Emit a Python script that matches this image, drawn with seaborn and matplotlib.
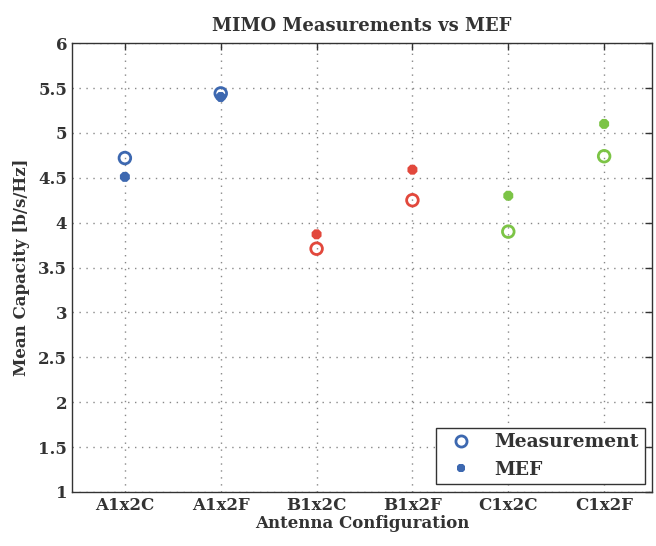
import matplotlib
matplotlib.use("Agg")
import matplotlib.pyplot as plt
import seaborn as sns
import pandas as pd
from matplotlib.lines import Line2D

configs = ["A1x2C", "A1x2F", "B1x2C", "B1x2F", "C1x2C", "C1x2F"]
groups = ["A", "A", "B", "B", "C", "C"]
measurement = [4.72, 5.44, 3.71, 4.25, 3.90, 4.74]
mef = [4.51, 5.40, 3.87, 4.59, 4.30, 5.10]
colors = {"A": "#3d68b0", "B": "#e2483c", "C": "#7cc446"}

meas_df = pd.DataFrame({"config": configs, "group": groups, "value": measurement})
mef_df = pd.DataFrame({"config": configs, "group": groups, "value": mef})

sns.set_style("white")
plt.rcParams["font.family"] = ["DejaVu Serif"]
plt.rcParams["font.weight"] = "bold"
plt.rcParams["text.color"] = "#333333"
plt.rcParams["axes.labelcolor"] = "#333333"
plt.rcParams["xtick.color"] = "#333333"
plt.rcParams["ytick.color"] = "#333333"

fig = plt.figure(figsize=(6.56, 5.46), dpi=100)
ax = fig.add_axes([0.110, 0.099, 0.884, 0.822])

# measurement: open circles
sns.scatterplot(data=meas_df, x="config", y="value", hue="group", palette=colors,
                marker="o", s=70, legend=False, ax=ax, zorder=3)
coll = ax.collections[-1]
fc = coll.get_facecolors()
coll.set_edgecolors(fc)
coll.set_facecolors("none")
coll.set_linewidths(2.0)

# MEF: filled markers
sns.scatterplot(data=mef_df, x="config", y="value", hue="group", palette=colors,
                marker="8", s=60, linewidth=0, legend=False, ax=ax, zorder=3)

ax.set_xlim(-0.55, 5.5)
ax.set_ylim(1, 6)
ax.set_yticks([1, 1.5, 2, 2.5, 3, 3.5, 4, 4.5, 5, 5.5, 6])
ax.set_yticklabels(["1", "1.5", "2", "2.5", "3", "3.5", "4", "4.5", "5", "5.5", "6"])
ax.grid(True, linestyle=(0, (1, 4)), color="#888888", linewidth=1.0)
ax.tick_params(direction="in", top=True, right=True, length=5, labelsize=12, width=1)
for s in ax.spines.values():
    s.set_color("#333333")
    s.set_linewidth(1.0)

ax.set_title("MIMO Measurements vs MEF", fontsize=13, fontweight="bold", pad=9)
ax.set_xlabel("Antenna Configuration", fontsize=12, fontweight="bold", labelpad=1)
ax.set_ylabel("Mean Capacity [b/s/Hz]", fontsize=12, fontweight="bold", labelpad=6)

handles = [
    Line2D([], [], marker="o", linestyle="none", markerfacecolor="none",
           markeredgecolor=colors["A"], markeredgewidth=2, markersize=8, label="Measurement"),
    Line2D([], [], marker="8", linestyle="none", markerfacecolor=colors["A"],
           markeredgewidth=0, markersize=7, label="MEF"),
]
leg = ax.legend(handles=handles, loc="lower right", fontsize=13.5, frameon=True,
                fancybox=False, edgecolor="#333333", framealpha=1,
                borderaxespad=0.4, handletextpad=0.8, borderpad=0.3)
leg.get_frame().set_linewidth(1.0)

fig.savefig("out.png", dpi=100)
